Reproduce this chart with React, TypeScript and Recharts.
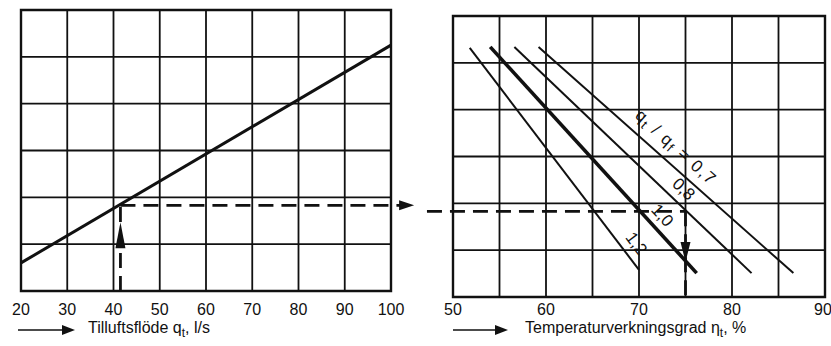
import {
  LineChart,
  Line,
  XAxis,
  YAxis,
  CartesianGrid,
  ReferenceLine,
  ReferenceDot,
  ReferenceArea,
} from "recharts";

// left panel: supply air flow
const flowTicks = [20, 30, 40, 50, 60, 70, 80, 90, 100];
const levelTicks = [0, 1, 2, 3, 4, 5, 6];
const flowLine = [
  { q: 20, level: 0.6 },
  { q: 100, level: 5.25 },
];

// right panel: temperature efficiency for each q_t/q_f ratio
const effTicks = [50, 55, 60, 65, 70, 75, 80, 85, 90];
const ratio07 = [
  { eta: 59.2, level: 5.34 },
  { eta: 86.6, level: 0.51 },
];
const ratio08 = [
  { eta: 56.6, level: 5.34 },
  { eta: 82.1, level: 0.51 },
];
const ratio10 = [
  { eta: 54.0, level: 5.34 },
  { eta: 76.2, level: 0.51 },
];
const ratio12 = [
  { eta: 51.8, level: 5.32 },
  { eta: 70.0, level: 0.58 },
];

// worked example (dashed reading line)
const readFlow = 41.5;
const readLevel = 1.83;
const readEta = 75;

const FONT = "'Liberation Sans', Arial, Helvetica, sans-serif";
const INK = "#111";
const dash = "15 8";

const tickStyle = { fontSize: 16, fill: INK, fontFamily: FONT };

type Dir = "up" | "down" | "right";

const arrowHead = (dir: Dir, len: number, half: number) => (props: any) => {
  const { cx, cy } = props;
  let d = "";
  if (dir === "up") d = `M${cx},${cy} L${cx - half},${cy + len} L${cx + half},${cy + len} Z`;
  if (dir === "down") d = `M${cx},${cy} L${cx - half},${cy - len} L${cx + half},${cy - len} Z`;
  if (dir === "right") d = `M${cx},${cy} L${cx - len},${cy - half} L${cx - len},${cy + half} Z`;
  return <path d={d} fill={INK} />;
};

const slopeLabel = (angle: number, content: React.ReactNode, spacing = 0) => (props: any) => {
  const { cx, cy } = props;
  return (
    <text
      x={cx}
      y={cy}
      transform={`rotate(${angle} ${cx} ${cy})`}
      textAnchor="middle"
      dominantBaseline="central"
      fontSize={17}
      fontFamily={FONT}
      letterSpacing={spacing}
      fill={INK}
    >
      {content}
    </text>
  );
};

const caption =
  (arrowStart: number, arrowEnd: number, textOffset: number, dy: number, name: string, symbol: string, unit: string) =>
  (props: any) => {
    const { x, y } = props.viewBox;
    const base = y + dy;
    const ay = base - 3;
    return (
      <g>
        <line x1={x + arrowStart} y1={ay} x2={x + arrowEnd - 10} y2={ay} stroke={INK} strokeWidth={1.5} />
        <path d={`M${x + arrowEnd},${ay} L${x + arrowEnd - 13},${ay - 5} L${x + arrowEnd - 13},${ay + 5} Z`} fill={INK} />
        <text x={x + textOffset} y={base} fontSize={16} fontFamily={FONT} fill={INK}>
          {name} {symbol}
          <tspan fontSize={12} dy={4}>t</tspan>
          <tspan dy={-4}>, {unit}</tspan>
        </text>
      </g>
    );
  };

const noLabel = () => "";

function FlowPanel() {
  return (
    <LineChart width={420} height={346} margin={{ top: 10, right: 29, bottom: 25, left: 21 }}>
      <CartesianGrid stroke={INK} strokeWidth={1.8} />
      <XAxis
        type="number"
        dataKey="q"
        domain={[20, 100]}
        ticks={flowTicks}
        height={30}
        tickLine={false}
        axisLine={false}
        tick={tickStyle}
        tickMargin={7}
        label={{ content: caption(-3, 54, 67, 42, "Tilluftsflöde", "q", "l/s") }}
      />
      <YAxis
        type="number"
        domain={[0, 6]}
        ticks={levelTicks}
        width={0}
        tickFormatter={noLabel}
        tickLine={false}
        axisLine={false}
      />
      <ReferenceArea x1={20} x2={100} y1={0} y2={6} fill="none" stroke={INK} strokeWidth={2.4} />
      <Line data={flowLine} dataKey="level" stroke={INK} strokeWidth={3} dot={false} isAnimationActive={false} />
      <ReferenceLine
        segment={[{ x: readFlow, y: 0 }, { x: readFlow, y: readLevel }]}
        stroke={INK}
        strokeWidth={2.8}
        strokeDasharray={dash}
      />
      <ReferenceLine
        segment={[{ x: readFlow, y: readLevel }, { x: 102, y: readLevel }]}
        stroke={INK}
        strokeWidth={2.8}
        strokeDasharray={dash}
        ifOverflow="visible"
      />
      <ReferenceDot x={readFlow} y={1.47} r={5} shape={arrowHead("up", 26, 5)} ifOverflow="visible" />
      <ReferenceDot x={105} y={readLevel} r={5} shape={arrowHead("right", 15, 5)} ifOverflow="visible" />
    </LineChart>
  );
}

function EfficiencyPanel() {
  return (
    <LineChart width={431} height={346} margin={{ top: 16, right: 6, bottom: 19, left: 53 }}>
      <CartesianGrid stroke={INK} strokeWidth={1.8} />
      <XAxis
        type="number"
        dataKey="eta"
        domain={[50, 90]}
        ticks={effTicks}
        height={30}
        tickFormatter={(v: number) => (v % 10 === 0 ? String(v) : "")}
        tickLine={false}
        axisLine={false}
        tick={tickStyle}
        tickMargin={1}
        label={{ content: caption(0, 55, 72, 36, "Temperaturverkningsgrad", "η", "%") }}
      />
      <YAxis
        type="number"
        domain={[0, 6]}
        ticks={levelTicks}
        width={0}
        tickFormatter={noLabel}
        tickLine={false}
        axisLine={false}
      />
      <ReferenceArea x1={50} x2={90} y1={0} y2={6} fill="none" stroke={INK} strokeWidth={2.4} />
      <Line data={ratio07} dataKey="level" stroke={INK} strokeWidth={2} dot={false} isAnimationActive={false} />
      <Line data={ratio08} dataKey="level" stroke={INK} strokeWidth={2} dot={false} isAnimationActive={false} />
      <Line data={ratio10} dataKey="level" stroke={INK} strokeWidth={3.6} dot={false} isAnimationActive={false} />
      <Line data={ratio12} dataKey="level" stroke={INK} strokeWidth={2} dot={false} isAnimationActive={false} />
      <ReferenceLine
        segment={[{ x: 47.2, y: readLevel }, { x: readEta, y: readLevel }]}
        stroke={INK}
        strokeWidth={2.8}
        strokeDasharray={dash}
        ifOverflow="visible"
      />
      <ReferenceLine
        segment={[{ x: readEta, y: readLevel }, { x: readEta, y: 0 }]}
        stroke={INK}
        strokeWidth={2.8}
        strokeDasharray={dash}
      />
      <ReferenceDot x={readEta} y={0.75} r={5} shape={arrowHead("down", 20, 5)} />
      <ReferenceDot
        x={74.0}
        y={3.2}
        r={5}
        shape={slopeLabel(
          42,
          <>
            q<tspan fontSize={13} dy={4}>t</tspan>
            <tspan dy={-4}> / q</tspan>
            <tspan fontSize={13} dy={4}>f</tspan>
            <tspan dy={-4}> = 0,7</tspan>
          </>,
          1.5
        )}
      />
      <ReferenceDot x={74.8} y={2.3} r={5} shape={slopeLabel(44, "0,8")} />
      <ReferenceDot x={72.5} y={1.74} r={5} shape={slopeLabel(47, "1,0")} />
      <ReferenceDot x={69.7} y={1.14} r={5} shape={slopeLabel(53, "1,2")} />
    </LineChart>
  );
}

export default function App() {
  return (
    <div style={{ position: "absolute", left: 0, top: 0, width: 831, height: 346, background: "#fff" }}>
      <div style={{ position: "absolute", left: 0, top: 0 }}>
        <FlowPanel />
      </div>
      <div style={{ position: "absolute", left: 400, top: 0 }}>
        <EfficiencyPanel />
      </div>
    </div>
  );
}
